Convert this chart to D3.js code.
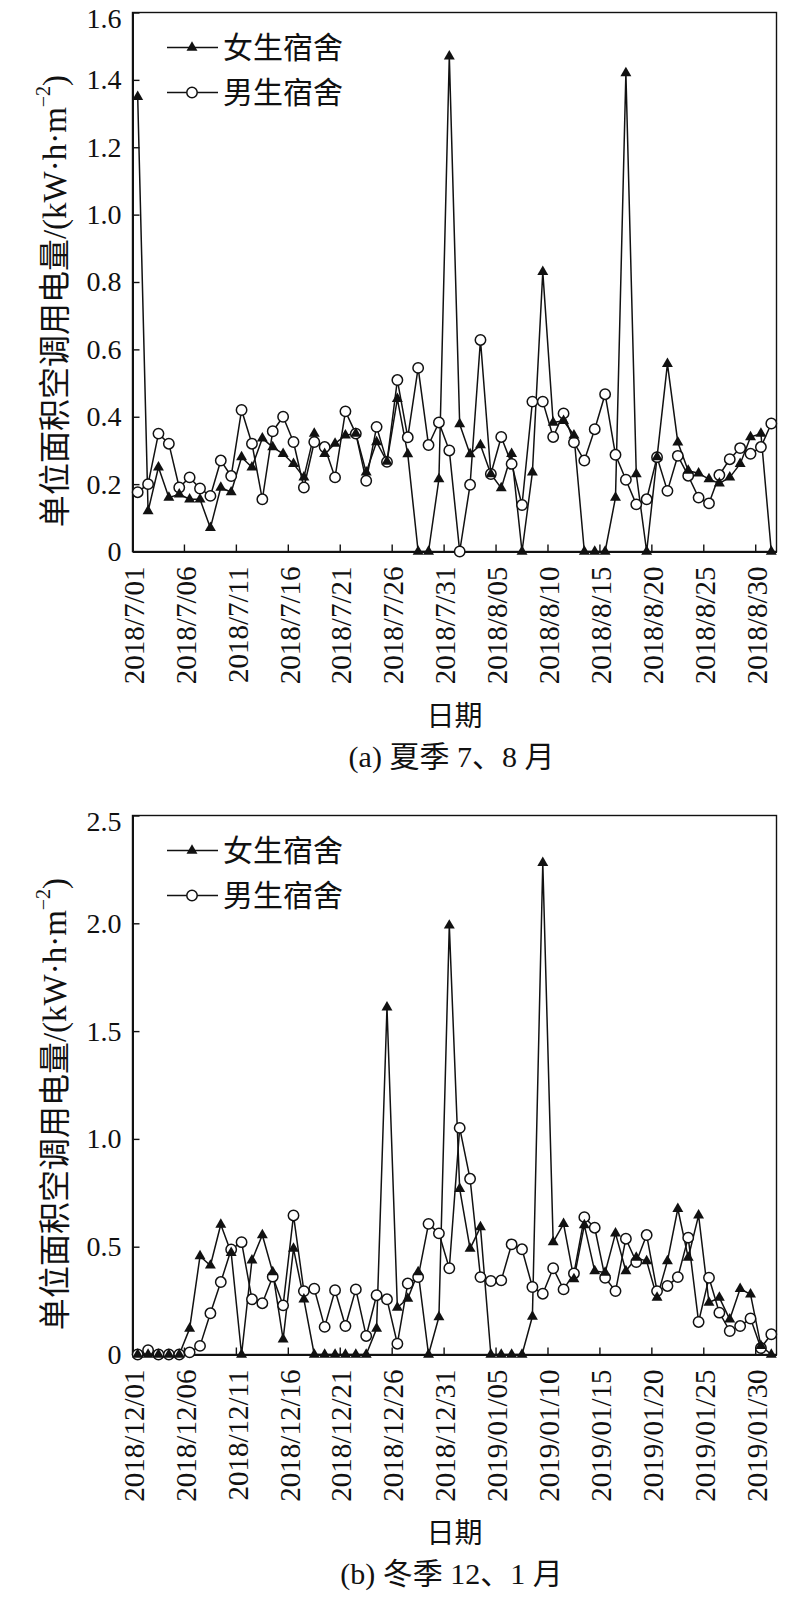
<!DOCTYPE html>
<html>
<head>
<meta charset="utf-8">
<script src="https://cdn.jsdelivr.net/npm/d3@7/dist/d3.min.js"></script>
<style>
  body { margin: 0; background: #fff; }
  svg text { font-family: "Liberation Serif", "Noto Sans CJK SC", serif; fill: #111; }
</style>
</head>
<body>
<div id="chart"></div>
<script>
// categories: one point per day
var summerDays = d3.timeDay.range(new Date(2018, 6, 1), new Date(2018, 8, 1));
var winterDays = d3.timeDay.range(new Date(2018, 11, 1), new Date(2019, 1, 1));

// labels shown on every 5th day
var summerTickLabels = ["2018/7/01", "2018/7/06", "2018/7/11", "2018/7/16", "2018/7/21", "2018/7/26",
    "2018/7/31", "2018/8/05", "2018/8/10", "2018/8/15", "2018/8/20", "2018/8/25", "2018/8/30"];
var winterTickLabels = ["2018/12/01", "2018/12/06", "2018/12/11", "2018/12/16", "2018/12/21", "2018/12/26",
    "2018/12/31", "2019/01/05", "2019/01/10", "2019/01/15", "2019/01/20", "2019/01/25", "2019/01/30"];

var summerYTicks = [0, 0.2, 0.4, 0.6, 0.8, 1.0, 1.2, 1.4, 1.6];
var winterYTicks = [0, 0.5, 1.0, 1.5, 2.0, 2.5];

var seriesNames = ["女生宿舍", "男生宿舍"];

// 单位面积空调用电量, kW·h·m-2
var femaleSummer = [1.35, 0.12, 0.25, 0.16, 0.17, 0.155, 0.155, 0.07, 0.19, 0.176,
    0.28, 0.25, 0.336, 0.31, 0.29, 0.26, 0.22, 0.35, 0.29, 0.32,
    0.345, 0.35, 0.235, 0.325, 0.267, 0.453, 0.289, 0, 0, 0.215,
    1.47, 0.378, 0.289, 0.316, 0.23, 0.188, 0.29, 0, 0.235, 0.83,
    0.383, 0.388, 0.345, 0, 0, 0, 0.16, 1.42, 0.23, 0,
    0.28, 0.557, 0.324, 0.24, 0.232, 0.215, 0.202, 0.22, 0.26, 0.34,
    0.35, 0];
var maleSummer = [0.176, 0.2, 0.35, 0.32, 0.19, 0.22, 0.187, 0.165, 0.27, 0.224,
    0.42, 0.32, 0.155, 0.357, 0.40, 0.325, 0.19, 0.325, 0.31, 0.22,
    0.416, 0.35, 0.21, 0.37, 0.266, 0.509, 0.339, 0.545, 0.316, 0.383,
    0.30, 0, 0.198, 0.628, 0.23, 0.34, 0.26, 0.138, 0.445, 0.445,
    0.34, 0.41, 0.324, 0.27, 0.363, 0.467, 0.287, 0.213, 0.14, 0.155,
    0.28, 0.18, 0.284, 0.225, 0.16, 0.143, 0.227, 0.274, 0.307, 0.29,
    0.31, 0.38];
var femaleWinter = [0, 0, 0, 0, 0, 0.12, 0.456, 0.413, 0.603, 0.472,
    0, 0.437, 0.554, 0.382, 0.07, 0.491, 0.256, 0, 0, 0,
    0, 0, 0, 0.12, 1.61, 0.218, 0.259, 0.382, 0, 0.174,
    1.99, 0.768, 0.491, 0.591, 0, 0, 0, 0, 0.176, 2.28,
    0.521, 0.606, 0.35, 0.6, 0.387, 0.38, 0.562, 0.387, 0.449, 0.433,
    0.264, 0.433, 0.676, 0.449, 0.645, 0.241, 0.264, 0.163, 0.305, 0.279,
    0.04, 0];
var maleWinter = [0, 0.02, 0, 0, 0, 0.01, 0.04, 0.191, 0.336, 0.487,
    0.521, 0.256, 0.238, 0.361, 0.228, 0.645, 0.294, 0.305, 0.128, 0.298,
    0.132, 0.302, 0.086, 0.275, 0.256, 0.05, 0.329, 0.359, 0.606, 0.562,
    0.4, 1.051, 0.815, 0.359, 0.341, 0.344, 0.511, 0.488, 0.313, 0.282,
    0.4, 0.302, 0.376, 0.637, 0.588, 0.356, 0.294, 0.537, 0.429, 0.554,
    0.294, 0.318, 0.359, 0.542, 0.151, 0.356, 0.194, 0.109, 0.132, 0.167,
    0.03, 0.094];

var svgWidth = 804, svgHeight = 1600;
var left = 132.5, right = 776.5, plotH = 539;

var svg = d3.select("#chart")
    .append("svg")
    .attr("width", svgWidth)
    .attr("height", svgHeight)
    .attr("font-family", "'Liberation Serif', 'Noto Sans CJK SC', serif");

var triangle = d3.symbol().type(d3.symbolTriangle).size(52);

function drawPanel(cfg) {
    var g = svg.append("g").attr("transform", "translate(0," + cfg.top + ")");

    var x = d3.scaleBand()
        .domain(cfg.days.map(function(d) { return +d; }))
        .range([left, right]);
    var bw = x.bandwidth();
    var cx = function(i) { return x(+cfg.days[i]) + bw / 2; };

    var y = d3.scaleLinear().domain([0, cfg.yMax]).range([plotH, 0]);

    // frame
    g.append("rect")
        .attr("x", left).attr("y", 0)
        .attr("width", right - left).attr("height", plotH)
        .attr("fill", "none").attr("stroke", "#111").attr("stroke-width", 1.4);

    // y axis, ticks inside
    var yAxis = g.append("g")
        .attr("transform", "translate(" + left + ",0)")
        .call(d3.axisLeft(y)
            .tickValues(cfg.yTicks)
            .tickSizeInner(-7)
            .tickSizeOuter(0)
            .tickPadding(11)
            .tickFormat(function(d) { return d === 0 ? "0" : d3.format(".1f")(d); }));
    yAxis.attr("font-family", null).attr("font-size", null);
    yAxis.select(".domain").attr("stroke", "#111").attr("stroke-width", 2);
    yAxis.selectAll(".tick line").attr("stroke", "#111").attr("stroke-width", 1.4);
    yAxis.selectAll(".tick text")
        .attr("font-size", 28)
        .attr("fill", "#111")
        .attr("dy", function(d) { return d === cfg.yMax ? "0.55em" : "0.32em"; });

    // x axis line
    var xAxis = g.append("g")
        .attr("transform", "translate(0," + plotH + ")")
        .call(d3.axisBottom(x).tickValues([]).tickSizeOuter(0));
    xAxis.select(".domain").attr("stroke", "#111").attr("stroke-width", 2);

    // tick marks between categories, every 5 days
    var boundaries = cfg.days.filter(function(d, i) { return i > 0 && i % 5 === 0; });
    g.append("g").selectAll("line")
        .data(boundaries)
        .enter()
        .append("line")
        .attr("x1", function(d) { return x(+d); })
        .attr("x2", function(d) { return x(+d); })
        .attr("y1", plotH)
        .attr("y2", plotH - 7)
        .attr("stroke", "#111")
        .attr("stroke-width", 1.4);

    // rotated date labels
    var labelled = cfg.days.filter(function(d, i) { return i % 5 === 0; });
    var labels = g.append("g");
    labels.selectAll("text")
        .data(labelled)
        .enter()
        .append("text")
        .attr("transform", function(d, i) {
            return "translate(" + (x(+d) + bw / 2 - 4) + "," + (plotH + 15) + ") rotate(-90)";
        })
        .attr("text-anchor", "end")
        .attr("dominant-baseline", "central")
        .attr("font-size", 29)
        .text(function(d, i) { return cfg.tickLabels[i]; });

    var lb = labels.node().getBBox();
    var titleY = lb.y + lb.height + 32;

    g.append("text")
        .attr("x", (left + right) / 2)
        .attr("y", titleY)
        .attr("text-anchor", "middle")
        .attr("dominant-baseline", "central")
        .attr("font-size", 28)
        .text("日期");

    g.append("text")
        .attr("x", (left + right) / 2 - 3)
        .attr("y", titleY + 40)
        .attr("text-anchor", "middle")
        .attr("dominant-baseline", "central")
        .attr("font-size", 30)
        .text(cfg.caption);

    // y title
    var yt = g.append("text")
        .attr("transform", "translate(55," + (plotH / 2 + 19) + ") rotate(-90)")
        .attr("text-anchor", "middle")
        .attr("dominant-baseline", "central")
        .attr("font-size", 32);
    yt.append("tspan").text("单位面积空调用电量");
    yt.append("tspan").attr("font-size", 33).text("/(kW·h·m");
    yt.append("tspan").attr("font-size", 20).attr("dy", -12).text("−2");
    yt.append("tspan").attr("font-size", 33).attr("dy", 12).text(")");

    // lines
    var line = d3.line()
        .x(function(d, i) { return cx(i); })
        .y(function(d) { return y(d); });

    [cfg.female, cfg.male].forEach(function(s) {
        g.append("path")
            .datum(s)
            .attr("d", line)
            .attr("fill", "none")
            .attr("stroke", "#111")
            .attr("stroke-width", 1.5)
            .attr("stroke-linejoin", "round");
    });

    g.append("g").selectAll("circle")
        .data(cfg.male)
        .enter()
        .append("circle")
        .attr("cx", function(d, i) { return cx(i); })
        .attr("cy", function(d) { return y(d); })
        .attr("r", 5.2)
        .attr("fill", "#fff")
        .attr("stroke", "#111")
        .attr("stroke-width", 1.5);

    g.append("g").selectAll("path")
        .data(cfg.female)
        .enter()
        .append("path")
        .attr("d", triangle)
        .attr("transform", function(d, i) { return "translate(" + cx(i) + "," + y(d) + ")"; })
        .attr("fill", "#111");

    // legend
    var legend = g.append("g");
    seriesNames.forEach(function(name, k) {
        var ly = 35 + k * 45;
        legend.append("line")
            .attr("x1", 167).attr("x2", 218)
            .attr("y1", ly).attr("y2", ly)
            .attr("stroke", "#111").attr("stroke-width", 1.5);
        if (k === 0) {
            legend.append("path")
                .attr("d", triangle)
                .attr("transform", "translate(192," + ly + ")")
                .attr("fill", "#111");
        } else {
            legend.append("circle")
                .attr("cx", 192).attr("cy", ly).attr("r", 5.2)
                .attr("fill", "#fff").attr("stroke", "#111").attr("stroke-width", 1.5);
        }
        legend.append("text")
            .attr("x", 223).attr("y", ly)
            .attr("dominant-baseline", "central")
            .attr("font-size", 30)
            .text(name);
    });
}

drawPanel({
    top: 12.5,
    days: summerDays,
    tickLabels: summerTickLabels,
    yTicks: summerYTicks,
    yMax: 1.6,
    female: femaleSummer,
    male: maleSummer,
    caption: "(a) 夏季 7、8 月"
});

drawPanel({
    top: 815.5,
    days: winterDays,
    tickLabels: winterTickLabels,
    yTicks: winterYTicks,
    yMax: 2.5,
    female: femaleWinter,
    male: maleWinter,
    caption: "(b) 冬季 12、1 月"
});
</script>
</body>
</html>
